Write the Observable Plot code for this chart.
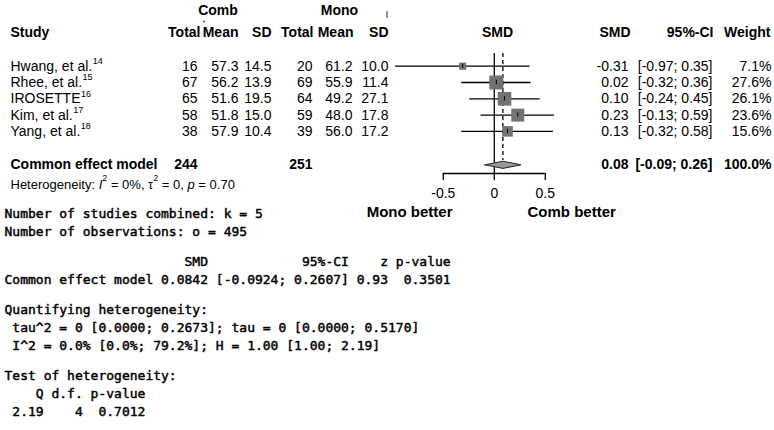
<!DOCTYPE html>
<html>
<head>
<meta charset="utf-8">
<script src="https://cdn.jsdelivr.net/npm/d3@7"></script>
<script src="https://cdn.jsdelivr.net/npm/@observablehq/plot@0.6"></script>
<style>
  html, body { margin: 0; padding: 0; background: #fff; }
  #chart svg { display: block; }
</style>
</head>
<body>
<div id="chart"></div>
<script>
// ---------------- data ----------------
const studies   = ["Hwang, et al.", "Rhee, et al.", "IROSETTE", "Kim, et al.", "Yang, et al."];
const refs      = ["14", "15", "16", "17", "18"];
const combTotal = [16, 67, 65, 58, 38];
const combMean  = [57.3, 56.2, 51.6, 51.8, 57.9];
const combSD    = [14.5, 13.9, 19.5, 15.0, 10.4];
const monoTotal = [20, 69, 64, 59, 39];
const monoMean  = [61.2, 55.9, 49.2, 48.0, 56.0];
const monoSD    = [10.0, 11.4, 27.1, 17.8, 17.2];
const smd       = [-0.31, 0.02, 0.10, 0.23, 0.13];
const ciLow     = [-0.97, -0.32, -0.24, -0.13, -0.32];
const ciHigh    = [0.35, 0.36, 0.45, 0.59, 0.58];
const weight    = [7.1, 27.6, 26.1, 23.6, 15.6];

const pooledLabel = "Common effect model";
const pooledSMD   = 0.0842;
const pooledLow   = -0.0924;
const pooledHigh  = 0.2607;
const pooledTotals = [244, 251];
const pooledWeight = 100.0;

const axisTicks  = [-0.5, 0, 0.5];
const groupNames = ["Comb", "Mono"];
const colHeads   = ["Total", "Mean", "SD"];
const rightHeads = ["SMD", "95%-CI", "Weight"];
const sideLabels = ["Mono better", "Comb better"];
const hetRuns = [
  ["Heterogeneity: ", "normal", false],
  ["I", "italic", false],
  ["2", "normal", true],
  [" = 0%, \u03c4", "normal", false],
  ["2", "normal", true],
  [" = 0, ", "normal", false],
  ["p", "italic", false],
  [" = 0.70", "normal", false]
];
const outputLines = [
  "Number of studies combined: k = 5",
  "Number of observations: o = 495",
  "",
  "                       SMD            95%-CI    z p-value",
  "Common effect model 0.0842 [-0.0924; 0.2607] 0.93  0.3501",
  "",
  "Quantifying heterogeneity:",
  " tau^2 = 0 [0.0000; 0.2673]; tau = 0 [0.0000; 0.5170]",
  " I^2 = 0.0% [0.0%; 79.2%]; H = 1.00 [1.00; 2.19]",
  "",
  "Test of heterogeneity:",
  "    Q d.f. p-value",
  " 2.19    4  0.7012"
];

// ---------------- layout ----------------
const W = 774, H = 430;
const X0 = 493.8, PXU = 102;   // pixel of SMD 0, pixels per SMD unit
const Y0 = 65.7, PYU = 16.3;   // pixel of first study row, pixels per row
const toX = px => (px - X0) / PXU;
const toY = px => (px - Y0) / PYU;
const SANS = "Liberation Sans, Arial, Helvetica, sans-serif";
const MONO = "DejaVu Sans Mono, monospace";
const nb = s => s.replace(/ /g, "\u00a0");

const ctx = document.createElement("canvas").getContext("2d");
function measure(t, size, weight = "normal", style = "normal", fam = "Liberation Sans") {
  ctx.font = `${style} ${weight} ${size}px "${fam}"`;
  return ctx.measureText(t).width;
}

const rows = studies.map((name, i) => ({
  i, name, ref: refs[i],
  ct: combTotal[i], cm: combMean[i], cs: combSD[i],
  mt: monoTotal[i], mm: monoMean[i], ms: monoSD[i],
  smd: smd[i], lo: ciLow[i], hi: ciHigh[i], w: weight[i]
}));

const SUMROW = 6.05;
const AXISY = toY(173);

function col(data, px, anchor, textFn, yFn, opts = {}) {
  return Plot.text(data, {
    x: () => toX(px), y: yFn, text: textFn, textAnchor: anchor,
    fontFamily: SANS, fontSize: 14, fill: "black", ...opts
  });
}
const rowY = d => d.i;
const f1 = v => v.toFixed(1);
const f2 = v => v.toFixed(2);

const leftCols = [
  ["ct", 197, v => String(v)], ["cm", 238, f1], ["cs", 271, f1],
  ["mt", 312, v => String(v)], ["mm", 352, f1], ["ms", 388, f1]
];
const headRight = [200, 238, 271, 313, 353, 388];

const marks = [];

// header: group names
groupNames.forEach((g, i) => marks.push(Plot.text([g], {
  x: () => toX([217.5, 339][i]), y: () => toY(10), text: d => d,
  fontFamily: SANS, fontSize: 14, fontWeight: "bold", textAnchor: "middle"
})));
// small stray marks seen in the source figure
marks.push(Plot.ruleX([0], {x: () => toX(386.5), y1: toY(11), y2: toY(18), stroke: "#333", strokeWidth: 1}));
marks.push(Plot.dot([0], {x: () => toX(203.5), y: () => toY(21), r: 0.9, fill: "#333", stroke: "none"}));

marks.push(Plot.text(["Study"], {x: () => toX(10), y: () => toY(32), text: d => d,
  fontFamily: SANS, fontSize: 14, fontWeight: "bold", textAnchor: "start"}));
[...colHeads, ...colHeads].forEach((h, i) => marks.push(Plot.text([h], {
  x: () => toX(headRight[i]), y: () => toY(32), text: d => d,
  fontFamily: SANS, fontSize: 14, fontWeight: "bold", textAnchor: "end"
})));
marks.push(Plot.text(["SMD"], {x: () => toX(497), y: () => toY(32), text: d => d,
  fontFamily: SANS, fontSize: 14, fontWeight: "bold", textAnchor: "middle"}));
rightHeads.forEach((h, i) => marks.push(Plot.text([h], {
  x: () => toX([630, 713, 770][i]), y: () => toY(32), text: d => d,
  fontFamily: SANS, fontSize: 14, fontWeight: "bold", textAnchor: "end"
})));

// study names + superscript refs
marks.push(col(rows, 10, "start", d => d.name, rowY));
marks.push(Plot.text(rows, {
  x: d => toX(10 + measure(d.name, 14) + 0.5), y: rowY, text: d => d.ref,
  fontFamily: SANS, fontSize: 9, dy: -5, textAnchor: "start"
}));
for (const [k, px, fmt] of leftCols) marks.push(col(rows, px, "end", d => fmt(d[k]), rowY));
marks.push(col(rows, 628, "end", d => f2(d.smd), rowY));
marks.push(col(rows, 712, "end", d => `[${f2(d.lo)}; ${f2(d.hi)}]`, rowY));
marks.push(col(rows, 771, "end", d => f1(d.w) + "%", rowY));

// pooled row
const bold = {fontWeight: "bold"};
marks.push(col([pooledLabel], 10, "start", d => d, () => SUMROW, bold));
pooledTotals.forEach((t, i) => marks.push(col([t], [197, 312][i], "end", d => String(d), () => SUMROW, bold)));
marks.push(col([pooledSMD], 628, "end", d => f2(d), () => SUMROW, bold));
marks.push(col([[pooledLow, pooledHigh]], 712, "end", d => `[${f2(d[0])}; ${f2(d[1])}]`, () => SUMROW, bold));
marks.push(col([pooledWeight], 771, "end", d => f1(d) + "%", () => SUMROW, bold));

// heterogeneity runs
{
  let px = 10;
  hetRuns.forEach(([t, style, sup]) => {
    const size = sup ? 9 : 13;
    const x0 = px;
    marks.push(Plot.text([t], {
      x: () => toX(x0), y: () => toY(184), text: d => nb(d),
      fontFamily: SANS, fontSize: size, fontStyle: style, textAnchor: "start",
      dy: sup ? -6 : 0
    }));
    px += measure(t, size, "normal", style);
  });
}

// forest: reference line at 0 and dashed pooled line
marks.push(Plot.ruleX([0], {x: d => d, y1: toY(53), y2: AXISY, stroke: "black", strokeWidth: 1.3}));
marks.push(Plot.ruleX([pooledSMD], {x: d => d, y1: toY(53), y2: toY(160), stroke: "black",
  strokeWidth: 1.3, strokeDasharray: "4,3"}));
marks.push(Plot.ruleY(rows, {y: rowY, x1: "lo", x2: "hi", stroke: "black", strokeWidth: 1.3}));
marks.push(Plot.dot(rows, {x: "smd", y: rowY, r: "w", symbol: "square", fill: "#727272", stroke: "none"}));
marks.push(Plot.ruleX(rows, {x: "smd", y1: d => d.i - 0.13, y2: d => d.i + 0.13, stroke: "black", strokeWidth: 1}));
const dh = 0.22;
const diamond = [
  {x: pooledLow, y: SUMROW}, {x: pooledSMD, y: SUMROW - dh},
  {x: pooledHigh, y: SUMROW}, {x: pooledSMD, y: SUMROW + dh}, {x: pooledLow, y: SUMROW}
];
marks.push(Plot.line(diamond, {x: "x", y: "y", fill: "#9a9a9a", stroke: "#222", strokeWidth: 1, curve: "linear"}));

// axis
marks.push(Plot.ruleY([AXISY], {y: d => d, x1: axisTicks[0], x2: axisTicks[axisTicks.length - 1], stroke: "black", strokeWidth: 1.3}));
marks.push(Plot.ruleX(axisTicks, {x: d => d, y1: AXISY, y2: toY(180), stroke: "black", strokeWidth: 1.3}));
marks.push(Plot.text(axisTicks, {x: d => d, y: () => toY(193), text: d => String(d),
  fontFamily: SANS, fontSize: 14, textAnchor: "middle"}));
marks.push(Plot.text([sideLabels[0]], {x: () => toX(452), y: () => toY(212), text: d => d,
  textAnchor: "end", fontFamily: SANS, fontSize: 15, fontWeight: "bold"}));
marks.push(Plot.text([sideLabels[1]], {x: () => toX(527), y: () => toY(212), text: d => d,
  textAnchor: "start", fontFamily: SANS, fontSize: 15, fontWeight: "bold"}));

// monospace R output
{
  let py = 213;
  const ys = [];
  outputLines.forEach(l => { if (l === "") { py += 12; } else { ys.push([l, py]); py += 18; } });
  marks.push(Plot.text(ys, {
    x: () => toX(4), y: d => toY(d[1]), text: d => nb(d[0]),
    fontFamily: MONO, fontSize: 13, fontWeight: "normal", textAnchor: "start",
    fill: "black", stroke: "black", strokeWidth: 0.45
  }));
}

const chart = Plot.plot({
  width: W, height: H, margin: 0,
  x: {domain: [toX(0), toX(W)], range: [0, W], axis: null},
  y: {domain: [toY(0), toY(H)], range: [0, H], axis: null},
  r: {type: "sqrt", domain: [0, d3.max(weight)], range: [0, 7.9]},
  style: {background: "#fff", color: "black"},
  marks
});
document.getElementById("chart").append(chart);
</script>
</body>
</html>
